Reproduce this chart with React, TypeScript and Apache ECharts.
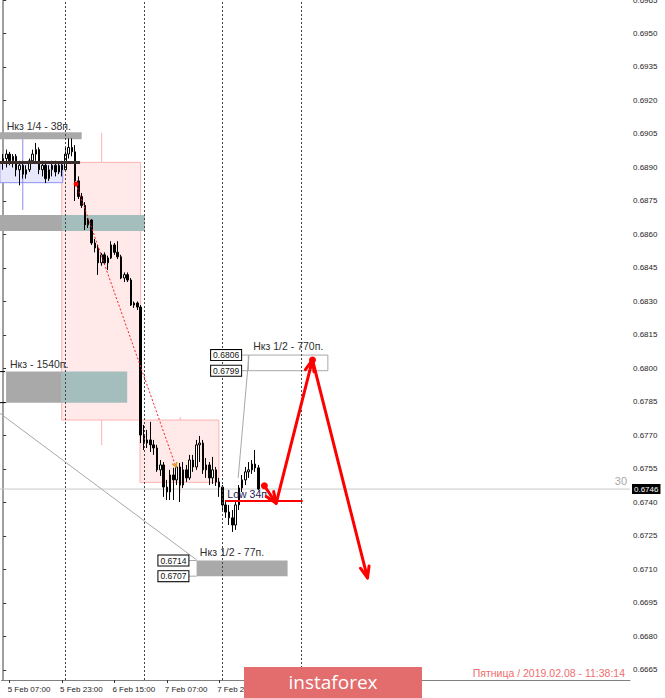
import { useEffect, useRef } from 'react';
import * as echarts from 'echarts';

const FONT = '"Liberation Sans", Arial, sans-serif';

// ---- time axis (H1 bars) ----
const MONTH = 'Feb';
const FIRST_DAY = 5;
const FIRST_HOUR = 5;
const SLOT_COUNT = 192;
const categories: string[] = Array.from({ length: SLOT_COUNT }, (_, i) => {
  const h = FIRST_HOUR + i;
  const d = FIRST_DAY + Math.floor(h / 24);
  const hh = h % 24;
  return `${d} ${MONTH} ${String(hh).padStart(2, '0')}:00`;
});
const xTickLabels = ['5 Feb 07:00', '5 Feb 23:00', '6 Feb 15:00', '7 Feb 07:00', '7 Feb 23:00'];
const daySeparators = ['6 Feb 00:00', '7 Feb 00:00', '8 Feb 00:00', '9 Feb 00:00'];

// ---- price axis ----
const yMin = 0.66605;
const yMax = 0.6965;
const yTickValues = [
  0.6665, 0.668, 0.6695, 0.671, 0.6725, 0.674, 0.6755, 0.677, 0.6785, 0.68, 0.6815,
  0.683, 0.6845, 0.686, 0.6875, 0.689, 0.6905, 0.692, 0.6935, 0.695, 0.6965,
];

// ---- candles: [open, close, low, high] ----
const candles: number[][] = [
  [0.6892, 0.6894, 0.6889, 0.6896],
  [0.6894, 0.6896, 0.689, 0.6898],
  [0.6896, 0.6893, 0.6891, 0.6897],
  [0.6893, 0.6895, 0.689, 0.6896],
  [0.6895, 0.6889, 0.6886, 0.6896],
  [0.6889, 0.6891, 0.6882, 0.6893],
  [0.6891, 0.6887, 0.6885, 0.6893],
  [0.6887, 0.6889, 0.6885, 0.6891],
  [0.6889, 0.6893, 0.6888, 0.6894],
  [0.6893, 0.6896, 0.6892, 0.6898],
  [0.6896, 0.6898, 0.6893, 0.6901],
  [0.6898, 0.6889, 0.6887, 0.6899],
  [0.6889, 0.6891, 0.6886, 0.6893],
  [0.6891, 0.6885, 0.6883, 0.6893],
  [0.6885, 0.6889, 0.6884, 0.6891],
  [0.6889, 0.6891, 0.6886, 0.6893],
  [0.6891, 0.6888, 0.6886, 0.6893],
  [0.6888, 0.6891, 0.6887, 0.6892],
  [0.6891, 0.6889, 0.6886, 0.6893],
  [0.6889, 0.6896, 0.6888, 0.6899],
  [0.6896, 0.6899, 0.6894, 0.6903],
  [0.6899, 0.6897, 0.6895, 0.6903],
  [0.6897, 0.6884, 0.6875, 0.69],
  [0.6884, 0.6877, 0.68759, 0.6886],
  [0.6877, 0.6873, 0.68719, 0.68786],
  [0.6873, 0.68643, 0.6862, 0.68745],
  [0.68643, 0.68665, 0.68629, 0.68674],
  [0.68665, 0.68562, 0.68553, 0.68668],
  [0.68562, 0.6854, 0.6852, 0.6858],
  [0.6854, 0.68473, 0.68419, 0.68553],
  [0.68473, 0.68509, 0.6846, 0.68517],
  [0.68509, 0.68473, 0.68464, 0.6852],
  [0.68473, 0.68495, 0.68441, 0.68505],
  [0.68495, 0.68553, 0.6849, 0.6857],
  [0.68553, 0.6852, 0.68509, 0.68562],
  [0.6852, 0.685, 0.6849, 0.6857],
  [0.685, 0.68405, 0.684, 0.68509],
  [0.68405, 0.6842, 0.68387, 0.6843],
  [0.6842, 0.68396, 0.68387, 0.6843],
  [0.68396, 0.68284, 0.6828, 0.68405],
  [0.68284, 0.68293, 0.68271, 0.683],
  [0.68293, 0.68275, 0.68262, 0.683],
  [0.68275, 0.67702, 0.67666, 0.68284],
  [0.67702, 0.67666, 0.67635, 0.67747],
  [0.67666, 0.6768, 0.67644, 0.67725],
  [0.6768, 0.67658, 0.67626, 0.67761],
  [0.67658, 0.67644, 0.67613, 0.6768],
  [0.67644, 0.67546, 0.67537, 0.67658],
  [0.67546, 0.67568, 0.67519, 0.6759],
  [0.67568, 0.67469, 0.67425, 0.67581],
  [0.67469, 0.67447, 0.67411, 0.67501],
  [0.67447, 0.67523, 0.67411, 0.67546],
  [0.67523, 0.67501, 0.67411, 0.67555],
  [0.67501, 0.67559, 0.67478, 0.67581],
  [0.67559, 0.67478, 0.67402, 0.67577],
  [0.67478, 0.67546, 0.67465, 0.67581],
  [0.67546, 0.6751, 0.67492, 0.67568],
  [0.6751, 0.6759, 0.67501, 0.67613],
  [0.6759, 0.67559, 0.67537, 0.67613],
  [0.67559, 0.67658, 0.67546, 0.6768],
  [0.67658, 0.67666, 0.67581, 0.67698],
  [0.67666, 0.67546, 0.67528, 0.6768],
  [0.67546, 0.67568, 0.6751, 0.67599],
  [0.67568, 0.6751, 0.67478, 0.67581],
  [0.6751, 0.67546, 0.67483, 0.67604],
  [0.67546, 0.67492, 0.67474, 0.67559],
  [0.67492, 0.67469, 0.67425, 0.6751],
  [0.67469, 0.67389, 0.67366, 0.67478],
  [0.67389, 0.67357, 0.67331, 0.67411],
  [0.67357, 0.67331, 0.67299, 0.67389],
  [0.67331, 0.67299, 0.67268, 0.67366],
  [0.67299, 0.67389, 0.67277, 0.67411],
  [0.67389, 0.67465, 0.67366, 0.67478],
  [0.67465, 0.67501, 0.67447, 0.67523],
  [0.67501, 0.67537, 0.67478, 0.67559],
  [0.67537, 0.67546, 0.6751, 0.67581],
  [0.67546, 0.67572, 0.67528, 0.6759],
  [0.67572, 0.67555, 0.67537, 0.67635],
  [0.67555, 0.6746, 0.67455, 0.67568],
];
const bidPrice = 0.6746;

// ---- annotations (bar-index / price values) ----
// daily boxes: [fromIdx, toIdx, open, close, wickIdx, high, low]
const dailyBoxes: number[][] = [
  [17.9, 42.0, 0.68923, 0.67769, 30.1, 0.69055, 0.67657],
  [41.8, 65.9, 0.67769, 0.6749, 54.1, 0.67783, 0.67443],
];
// consolidation range: [fromIdx, toIdx, top, bottom]
const rangeBox = [-1, 18.2, 0.68926, 0.68832];
// range marker: [idx, top, bottom]
const rangeMarker = [6.0, 0.6906, 0.6871];
// gray zones: [fromIdx, toIdx, top, bottom]
const grayZones: number[][] = [
  [-1, 24.0, 0.69058, 0.69026],
  [-1, 18.0, 0.68687, 0.68616],
  [0.9, 17.9, 0.67986, 0.67847],
  [59.1, 86.9, 0.6714, 0.6707],
];
// overlapping parts of the zones: [fromIdx, toIdx, top, bottom]
const tealZones: number[][] = [
  [18.0, 43.3, 0.68687, 0.68616],
  [17.9, 37.9, 0.67986, 0.67847],
];
const targetZone = [74.9, 99.2, 0.6806, 0.6799];
const levelLine = [-1, 23.5, 0.68922];
const lowLine = [67.8, 91.5, 0.67407];
const leftStubs = [0.67986, 0.67847];
// [label idx (right edge), price, zone start idx]
const priceTags: number[][] = [
  [56.6, 0.6714, 59.1],
  [56.6, 0.6707, 59.1],
  [72.7, 0.6806, 74.9],
  [72.7, 0.6799, 74.9],
];
const grayDiagonals: number[][] = [
  [-0.96, 0.67799, 59.1, 0.67143],
  [75.1, 0.6806, 71.8, 0.6751],
];
const dottedPath: number[][] = [
  [22.3, 0.68826],
  [52.8, 0.67559],
];
const forecastPath: number[][] = [
  [79.8, 0.67475],
  [83.4, 0.67396],
  [94.5, 0.68038],
  [111.3, 0.67062],
];
const notes: [string, number, number][] = [
  ['Нкз 1/4 - 38п.', 1.1, 0.69087],
  ['Нкз - 1540п.', 2.1, 0.68019],
  ['Нкз 1/2 - 77п.', 60.1, 0.67177],
  ['Нкз 1/2 - 770п.', 76.4, 0.68102],
];
const lowNote: [string, number, number] = ['Low 34п.', 68.5, 0.67437];
const spreadNote: [string, number, number] = ['30', 190.6, 0.67496];
const footerText = 'Пятница / 2019.02.08 - 11:38:14';
const brandText = 'instaforex';

function makeHelpers(api: any) {
  const P = (x: number, p: number) => api.coord([x, p]);
  const rect = (x0: number, x1: number, p0: number, p1: number, style: any) => {
    const a = P(x0, p0);
    const b = P(x1, p1);
    return {
      type: 'rect',
      shape: {
        x: Math.min(a[0], b[0]),
        y: Math.min(a[1], b[1]),
        width: Math.abs(b[0] - a[0]),
        height: Math.abs(b[1] - a[1]),
      },
      style,
    };
  };
  const line = (x0: number, p0: number, x1: number, p1: number, style: any) => {
    const a = P(x0, p0);
    const b = P(x1, p1);
    return { type: 'line', shape: { x1: a[0], y1: a[1], x2: b[0], y2: b[1] }, style };
  };
  return { P, rect, line };
}

function renderBackground(_params: any, api: any) {
  const { rect, line } = makeHelpers(api);
  const children: any[] = [];
  const pinkStroke = '#ffb2b2';
  dailyBoxes.forEach(([x0, x1, o, c, wx, hi, lo]) => {
    const top = Math.max(o, c);
    const bot = Math.min(o, c);
    children.push(line(wx, hi, wx, top, { stroke: pinkStroke, lineWidth: 1 }));
    children.push(line(wx, bot, wx, lo, { stroke: pinkStroke, lineWidth: 1 }));
    children.push(rect(x0, x1, o, c, { fill: '#ffe9e9', stroke: pinkStroke, lineWidth: 1 }));
  });
  children.push(
    rect(rangeBox[0], rangeBox[1], rangeBox[2], rangeBox[3], {
      fill: '#e8e8fc',
      stroke: '#9090f0',
      lineWidth: 1,
    })
  );
  children.push(
    line(rangeMarker[0], rangeMarker[1], rangeMarker[0], rangeMarker[2], {
      stroke: '#8c8cf4',
      lineWidth: 1,
    })
  );
  grayZones.forEach(([x0, x1, t, b]) => {
    children.push(rect(x0, x1, t, b, { fill: '#a9a9a9' }));
  });
  tealZones.forEach(([x0, x1, t, b]) => {
    children.push(rect(x0, x1, t, b, { fill: '#a4bebd' }));
  });
  children.push(
    rect(targetZone[0], targetZone[1], targetZone[2], targetZone[3], {
      fill: 'none',
      stroke: '#a8a8a8',
      lineWidth: 1,
    })
  );
  // bid line
  children.push(line(-1, bidPrice, SLOT_COUNT - 0.5, bidPrice, { stroke: '#c8c8c8', lineWidth: 1 }));
  return { type: 'group', children, silent: true };
}

function arrowHead(from: number[], tip: number[], len: number, spread: number, style: any) {
  const ang = Math.atan2(tip[1] - from[1], tip[0] - from[0]);
  const l = [tip[0] - len * Math.cos(ang - spread), tip[1] - len * Math.sin(ang - spread)];
  const r = [tip[0] - len * Math.cos(ang + spread), tip[1] - len * Math.sin(ang + spread)];
  return { type: 'polyline', shape: { points: [l, tip, r] }, style };
}

function renderForeground(_params: any, api: any) {
  const { P, line } = makeHelpers(api);
  const children: any[] = [];
  // thick level line over the range
  children.push(
    line(levelLine[0], levelLine[2], levelLine[1], levelLine[2], {
      stroke: '#3d2e2e',
      lineWidth: 3,
    })
  );
  // gray connector diagonals
  grayDiagonals.forEach(([x0, p0, x1, p1]) => {
    children.push(line(x0, p0, x1, p1, { stroke: '#a8a8a8', lineWidth: 1 }));
  });
  // cut-off label stubs at left edge
  leftStubs.forEach((p) => {
    children.push(line(-1, p, 0.6, p, { stroke: '#000', lineWidth: 1 }));
  });
  // price tags
  priceTags.forEach(([xr, p, xz]) => {
    children.push(line(xr, p, xz, p, { stroke: '#a8a8a8', lineWidth: 1 }));
    const a = P(xr, p);
    children.push({
      type: 'text',
      x: a[0],
      y: a[1],
      style: {
        text: p.toFixed(4),
        fill: '#111',
        font: `8.5px ${FONT}`,
        align: 'right',
        verticalAlign: 'middle',
        backgroundColor: '#ffffff',
        borderColor: '#000000',
        borderWidth: 1,
        padding: [1, 2, 0, 2],
      },
    });
  });
  // texts
  notes.forEach(([t, x, p]) => {
    const a = P(x, p);
    children.push({
      type: 'text',
      x: a[0],
      y: a[1],
      style: { text: t, fill: '#2f2f2f', font: `10.5px ${FONT}`, align: 'left', verticalAlign: 'middle' },
    });
  });
  {
    const a = P(lowNote[1], lowNote[2]);
    children.push({
      type: 'text',
      x: a[0],
      y: a[1],
      style: { text: lowNote[0], fill: '#1c1c50', font: `10.5px ${FONT}`, align: 'left', verticalAlign: 'middle' },
    });
  }
  {
    const a = P(spreadNote[1], spreadNote[2]);
    children.push({
      type: 'text',
      x: a[0],
      y: a[1],
      style: { text: spreadNote[0], fill: '#a8a8a8', font: `11px ${FONT}`, align: 'right', verticalAlign: 'middle' },
    });
  }
  // bid price tag on the axis
  {
    const a = P(SLOT_COUNT - 0.5, bidPrice);
    children.push({
      type: 'text',
      x: a[0] + 2,
      y: a[1],
      style: {
        text: bidPrice.toFixed(4),
        fill: '#ffffff',
        font: `8px ${FONT}`,
        align: 'left',
        verticalAlign: 'middle',
        backgroundColor: '#000000',
        padding: [1, 2, 1, 2],
      },
    });
  }
  // red dotted trend
  {
    const a = P(dottedPath[0][0], dottedPath[0][1]);
    const b = P(dottedPath[1][0], dottedPath[1][1]);
    children.push({
      type: 'line',
      shape: { x1: a[0], y1: a[1], x2: b[0], y2: b[1] },
      style: { stroke: '#ff2020', lineWidth: 1, lineDash: [2, 2] },
    });
    children.push({ type: 'circle', shape: { cx: a[0], cy: a[1], r: 2.5 }, style: { fill: '#ff0000' } });
    children.push(arrowHead(a, b, 5, 0.5, { stroke: '#e0a020', lineWidth: 1.5, fill: 'none' }));
  }
  // low line
  children.push(
    line(lowLine[0], lowLine[2], lowLine[1], lowLine[2], { stroke: '#ff0000', lineWidth: 2 })
  );
  // forecast arrows
  const pts = forecastPath.map(([x, p]) => P(x, p));
  const red = { stroke: '#ff0000', lineWidth: 3, fill: 'none', lineJoin: 'round', lineCap: 'round' };
  children.push({ type: 'polyline', shape: { points: pts }, style: red });
  for (let i = 1; i < pts.length; i++) {
    children.push(arrowHead(pts[i - 1], pts[i], 12, 0.38, red));
  }
  children.push({ type: 'circle', shape: { cx: pts[0][0], cy: pts[0][1], r: 3.5 }, style: { fill: '#ff0000' } });
  children.push({ type: 'circle', shape: { cx: pts[2][0], cy: pts[2][1], r: 3.5 }, style: { fill: '#ff0000' } });
  return { type: 'group', children, silent: true };
}

function buildOption(): any {
  const showTick = (_i: number, v: string) => xTickLabels.includes(v);
  return {
    animation: false,
    backgroundColor: '#ffffff',
    textStyle: { fontFamily: FONT },
    grid: { left: 1.5, right: 35, top: 0, bottom: 18, containLabel: false, outerBoundsMode: 'none' },
    xAxis: [
      {
        type: 'category',
        data: categories,
        boundaryGap: true,
        axisLine: { show: true, lineStyle: { color: '#808080', width: 1 } },
        axisTick: { show: true, interval: showTick, alignWithLabel: true, length: 3, lineStyle: { color: '#333' } },
        axisLabel: {
          show: true,
          interval: showTick,
          align: 'left',
          margin: 5,
          fontSize: 8,
          fontFamily: FONT,
          color: '#1e1e1e',
          padding: [0, 0, 0, -2],
        },
        splitLine: { show: false },
      },
      {
        type: 'value',
        min: -0.5,
        max: SLOT_COUNT - 0.5,
        show: false,
        splitLine: { show: false },
      },
    ],
    yAxis: {
      type: 'value',
      position: 'right',
      min: yMin,
      max: yMax,
      axisLine: { show: true, lineStyle: { color: '#808080', width: 1.5 } },
      axisTick: { show: true, customValues: yTickValues, length: 3, lineStyle: { color: '#333' } },
      axisLabel: {
        show: true,
        customValues: yTickValues,
        formatter: (v: number) => v.toFixed(4),
        fontSize: 8,
        fontFamily: FONT,
        color: '#1e1e1e',
        margin: 3,
      },
      splitLine: { show: false },
    },
    series: [
      {
        type: 'custom',
        xAxisIndex: 1,
        yAxisIndex: 0,
        data: [[0, 0.68]],
        renderItem: renderBackground,
        z: 1,
        silent: true,
      },
      {
        type: 'candlestick',
        xAxisIndex: 0,
        yAxisIndex: 0,
        data: candles,
        barWidth: 2,
        z: 3,
        silent: true,
        itemStyle: {
          color: '#ffffff',
          color0: '#000000',
          borderColor: '#000000',
          borderColor0: '#000000',
          borderWidth: 1,
        },
        markLine: {
          silent: true,
          symbol: 'none',
          animation: false,
          data: daySeparators.map((d) => ({
            xAxis: d,
            lineStyle: { color: '#444', width: 1, type: [2, 2] },
            label: { show: false },
          })),
        },
      },
      {
        type: 'custom',
        xAxisIndex: 1,
        yAxisIndex: 0,
        data: [[0, 0.68]],
        renderItem: renderForeground,
        z: 5,
        silent: true,
      },
    ],
    graphic: [
      {
        type: 'text',
        x: 625,
        y: 673,
        z: 100,
        style: { text: footerText, fill: '#ef6d6d', font: `10.5px ${FONT}`, align: 'right', verticalAlign: 'middle' },
      },
      {
        type: 'rect',
        z: 100,
        shape: { x: 244, y: 667, width: 178, height: 31 },
        style: { fill: '#e36c6c' },
      },
      {
        type: 'text',
        x: 333,
        y: 682,
        z: 101,
        style: { text: brandText, fill: '#ffffff', font: `19px "Open Sans", ${FONT}`, align: 'center', verticalAlign: 'middle' },
      },
    ],
  };
}

export default function App() {
  const ref = useRef<HTMLDivElement>(null);
  useEffect(() => {
    if (!ref.current) return;
    const chart = echarts.init(ref.current, null, { renderer: 'svg' });
    chart.setOption(buildOption());
    return () => chart.dispose();
  }, []);
  return (
    <div
      ref={ref}
      style={{ position: 'fixed', left: 0, top: 0, width: 665, height: 698, background: '#ffffff' }}
    />
  );
}
